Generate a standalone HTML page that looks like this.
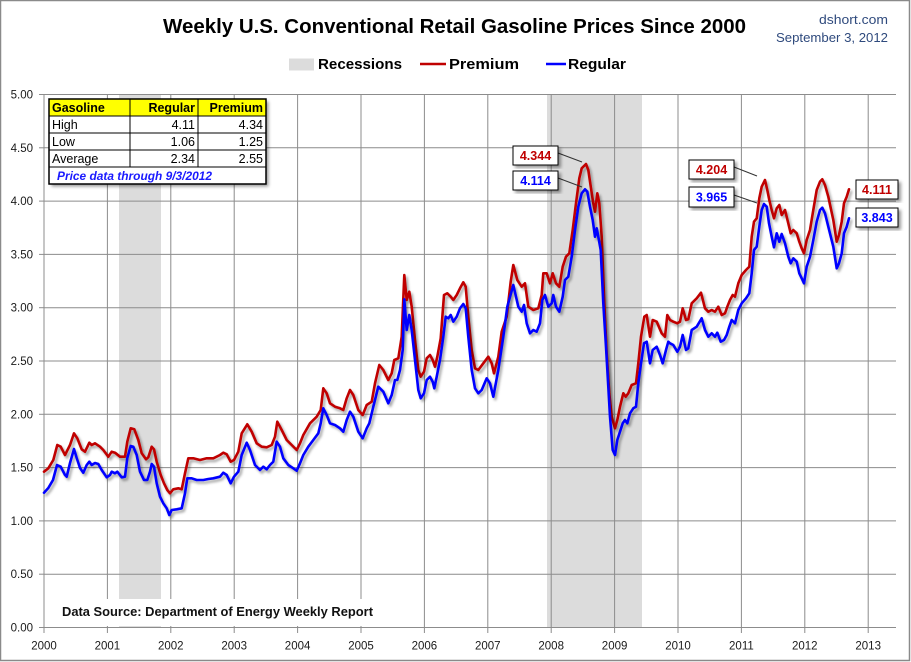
<!DOCTYPE html>
<html><head><meta charset="utf-8">
<style>
html,body{margin:0;padding:0;background:#fff;}
svg{display:block;}
text{font-family:"Liberation Sans",Arial,sans-serif;}
</style></head>
<body>
<svg width="911" height="662" viewBox="0 0 911 662" xmlns="http://www.w3.org/2000/svg">
<defs>
<filter id="sh" x="-5%" y="-5%" width="110%" height="110%">
<feDropShadow dx="2" dy="2.5" stdDeviation="1.4" flood-color="#000" flood-opacity="0.35"/>
</filter>
<filter id="bs" x="-10%" y="-10%" width="125%" height="130%">
<feDropShadow dx="2.5" dy="2.5" stdDeviation="1.5" flood-color="#000" flood-opacity="0.4"/>
</filter>
</defs>
<rect x="0.5" y="0.5" width="909" height="660" fill="#fff" stroke="#8a8a8a" stroke-width="1.5"/>

<!-- title -->
<text x="163" y="33" font-size="20" font-weight="bold" fill="#000" textLength="583" lengthAdjust="spacingAndGlyphs">Weekly U.S. Conventional Retail Gasoline Prices Since 2000</text>
<text x="888" y="24" font-size="13" fill="#2F4A7D" text-anchor="end" textLength="69" lengthAdjust="spacingAndGlyphs">dshort.com</text>
<text x="888" y="42" font-size="13" fill="#2F4A7D" text-anchor="end" textLength="112" lengthAdjust="spacingAndGlyphs">September 3, 2012</text>

<!-- legend -->
<rect x="289" y="58.5" width="25" height="12" fill="#dcdcdc"/>
<text x="318" y="69" font-size="15" font-weight="bold" textLength="84" lengthAdjust="spacingAndGlyphs">Recessions</text>
<line x1="420" y1="64" x2="446" y2="64" stroke="#C00000" stroke-width="2.5"/>
<text x="449" y="69" font-size="15" font-weight="bold" textLength="70" lengthAdjust="spacingAndGlyphs">Premium</text>
<line x1="546" y1="64" x2="566" y2="64" stroke="#0000FF" stroke-width="2.5"/>
<text x="568" y="69" font-size="15" font-weight="bold" textLength="58" lengthAdjust="spacingAndGlyphs">Regular</text>

<!-- recession bands -->
<rect x="119" y="94.5" width="42" height="533" fill="#dcdcdc"/>
<rect x="547" y="94.5" width="95" height="533" fill="#dcdcdc"/>

<!-- grid -->
<g stroke="#8c8c8c" stroke-width="1">
<line x1="44" y1="94.5" x2="896" y2="94.5"/>
<line x1="44" y1="147.8" x2="896" y2="147.8"/>
<line x1="44" y1="201.1" x2="896" y2="201.1"/>
<line x1="44" y1="254.4" x2="896" y2="254.4"/>
<line x1="44" y1="307.7" x2="896" y2="307.7"/>
<line x1="44" y1="361" x2="896" y2="361"/>
<line x1="44" y1="414.3" x2="896" y2="414.3"/>
<line x1="44" y1="467.6" x2="896" y2="467.6"/>
<line x1="44" y1="520.9" x2="896" y2="520.9"/>
<line x1="44" y1="574.2" x2="896" y2="574.2"/>
<line x1="44" y1="627.5" x2="896" y2="627.5"/>
<line x1="44" y1="94.5" x2="44" y2="633"/>
<line x1="107.4" y1="94.5" x2="107.4" y2="633"/>
<line x1="170.8" y1="94.5" x2="170.8" y2="633"/>
<line x1="234.2" y1="94.5" x2="234.2" y2="633"/>
<line x1="297.6" y1="94.5" x2="297.6" y2="633"/>
<line x1="361" y1="94.5" x2="361" y2="633"/>
<line x1="424.4" y1="94.5" x2="424.4" y2="633"/>
<line x1="487.8" y1="94.5" x2="487.8" y2="633"/>
<line x1="551.2" y1="94.5" x2="551.2" y2="633"/>
<line x1="614.6" y1="94.5" x2="614.6" y2="633"/>
<line x1="678" y1="94.5" x2="678" y2="633"/>
<line x1="741.4" y1="94.5" x2="741.4" y2="633"/>
<line x1="804.8" y1="94.5" x2="804.8" y2="633"/>
<line x1="868.2" y1="94.5" x2="868.2" y2="633"/>
<line x1="39" y1="94.5" x2="44" y2="94.5"/>
<line x1="39" y1="147.8" x2="44" y2="147.8"/>
<line x1="39" y1="201.1" x2="44" y2="201.1"/>
<line x1="39" y1="254.4" x2="44" y2="254.4"/>
<line x1="39" y1="307.7" x2="44" y2="307.7"/>
<line x1="39" y1="361" x2="44" y2="361"/>
<line x1="39" y1="414.3" x2="44" y2="414.3"/>
<line x1="39" y1="467.6" x2="44" y2="467.6"/>
<line x1="39" y1="520.9" x2="44" y2="520.9"/>
<line x1="39" y1="574.2" x2="44" y2="574.2"/>
<line x1="39" y1="627.5" x2="44" y2="627.5"/>
</g>

<!-- y labels -->
<g font-size="11.5" fill="#1a1a1a" text-anchor="end">
<text x="33" y="98.5">5.00</text>
<text x="33" y="151.8">4.50</text>
<text x="33" y="205.1">4.00</text>
<text x="33" y="258.4">3.50</text>
<text x="33" y="311.7">3.00</text>
<text x="33" y="365">2.50</text>
<text x="33" y="418.3">2.00</text>
<text x="33" y="471.6">1.50</text>
<text x="33" y="524.9">1.00</text>
<text x="33" y="578.2">0.50</text>
<text x="33" y="631.5">0.00</text>
</g>
<!-- x labels -->
<g font-size="11.5" fill="#1a1a1a" text-anchor="middle">
<text x="44" y="649.5">2000</text>
<text x="107.4" y="649.5">2001</text>
<text x="170.8" y="649.5">2002</text>
<text x="234.2" y="649.5">2003</text>
<text x="297.6" y="649.5">2004</text>
<text x="361" y="649.5">2005</text>
<text x="424.4" y="649.5">2006</text>
<text x="487.8" y="649.5">2007</text>
<text x="551.2" y="649.5">2008</text>
<text x="614.6" y="649.5">2009</text>
<text x="678" y="649.5">2010</text>
<text x="741.4" y="649.5">2011</text>
<text x="804.8" y="649.5">2012</text>
<text x="868.2" y="649.5">2013</text>
</g>

<!-- data source -->
<rect x="55" y="599" width="325" height="27" fill="#fff"/>
<text x="62" y="616" font-size="13" font-weight="bold" fill="#111" textLength="311" lengthAdjust="spacingAndGlyphs">Data Source: Department of Energy Weekly Report</text>

<!-- series -->
<polyline filter="url(#sh)" fill="none" stroke="#C00000" stroke-width="2.6" stroke-linejoin="round" stroke-linecap="round" points="44,471.7 48.3,468.3 53.3,460 57.3,445 60.7,446.7 65,455 70,445 74,433.3 77.3,438.3 81.7,449.3 85,451.7 89.3,442.7 91.7,445 95,443.3 100,446.7 103.3,450 108.3,456.7 111.7,451.7 115,452.7 120,456.7 125,456.7 127.3,441.7 130.7,428.3 134.3,429.3 138.3,440 141.7,453.3 146,459.3 148.3,457.3 151.7,446.7 154,449.3 156.7,461.7 160.7,475 164,483.3 167.3,490 170,493.3 173.3,489.3 178.3,488.3 181.7,489.3 185,473.3 188.3,458.3 193.3,458.3 200,460 206.7,458.3 213.3,458.3 220,455 223.3,452.7 226.7,454.3 230.7,461.7 234,460 238.3,451.7 241.7,433.3 247.3,424.3 251.7,431.7 256.7,443.3 261.7,446.7 266.7,447.3 271.7,445 275,436.7 277.3,421.7 281.7,430 286.7,440 291.7,445 296.7,450 300,443.3 303.3,435 310,423.3 316.7,416.7 320.7,410 323.3,388.3 326.7,393.3 330,403.3 335,406.7 340,408.3 343.3,410 346.7,398.3 350,390 353.3,395 358.3,410 362.7,415 366.7,405 371.7,401.7 375,383.3 379.3,365 383.3,370 388.3,380 391.7,373.3 394.3,360 398.3,358.3 401.7,336.7 404.3,275 406.7,300 409.3,291.7 411.7,306.7 415,340 418.3,370 420.7,376.7 424,371.7 426.7,358.3 430,355 432.7,360 435,366.7 437.3,356.7 440.7,338.3 444,295 447.3,293.3 450.7,296.7 453.3,300 456.7,295 460,288.3 463.3,282.3 465.7,286.7 468.3,316.7 471.7,350 475,368.3 478.3,370 483.3,363.3 488.3,356.7 491.7,363.3 494,373.3 498.3,356.7 501.7,331.7 506.7,316.7 510.7,281.7 513.3,265 517.3,280 521.7,286.7 525,283.3 528.3,306.7 533.3,310 538.3,308.3 541.7,295 543.3,273.3 546.7,273.3 550,283.3 552.7,273.3 556,283.3 559.3,286.7 562.7,266.7 566,256.7 569.3,253.3 572.7,230 576,203.3 579.3,178.3 581.7,168.3 586,164 588.3,170 591,188.3 593.3,203.3 595,211.7 597.3,193.3 599.3,203.3 601.7,236.7 604.3,303.3 606.7,353.3 609.3,393.3 611.7,416.7 615,428.3 617.3,420 620,406.7 623.3,393.3 625.7,396.7 628.3,393.3 631.7,385 636,383.3 638.3,363.3 641,336.7 644.3,316.7 646.7,315 650,336.7 652.7,320 656.7,321.7 661.7,333.3 665,336.7 667.3,315 670,320 673.3,321.7 677.3,323.3 680,321.7 682.7,308.3 686,320 688.3,319.3 691.7,303.3 696.7,298.3 701,292.7 705,308.3 708.3,311.7 711.7,310 715,311.7 718.3,306.7 721.7,315 725,313.3 727.3,306.7 730,300 732.7,295 735,296.7 738.3,283.3 741.7,275 746,270 749.3,266.7 751.7,236.7 754,221.7 756.7,218.3 759.3,198.3 761.7,186.7 765,180 767.3,190 769.3,200 771.7,210 774,218.3 776.7,208.3 779.3,205 781.7,215 785,210 788.3,223.3 790.7,233.3 793.3,230 796.7,233.3 799.3,241.7 801.7,248.3 804,253.3 806.7,240 810,230 813.3,210 816.7,190 820,181.7 822.3,179.3 825,185 828.3,196.7 833.3,220 836.7,241.7 839,235 841.7,221.7 844,203.3 846.7,196.7 849,189.3"/>
<polyline filter="url(#sh)" fill="none" stroke="#0000FF" stroke-width="2.6" stroke-linejoin="round" stroke-linecap="round" points="44,492.7 48.3,488 53,480 57,465 60.7,466.7 65,475 66.7,476.7 70,463 74,449 76.7,458 80,468 83.3,472.7 86.7,465 89.3,461.7 91.7,465 95,463 98.3,464 101.7,470 106.7,477.3 110,475 111.7,471.7 115,473.3 117.3,471.7 121.7,477.3 125,476.7 127.3,458 130.7,446 133.3,446.7 136.7,455 140,471.7 144,480 147.3,480 150,471.7 151.7,464 154,466.7 156.7,483.3 160,496.7 163.3,503.3 166.7,508.3 169.3,515 171.7,510 176.7,509.3 181.7,508.3 185,493.3 187.3,478.3 191.7,478.3 196.7,480 203.3,480 208.3,479 213.3,478.3 220,476.7 223.3,472.7 226.7,475 230.7,483.3 234,476.7 238.3,471.7 241.7,455 246.7,442.7 250,450 255,465 260,470 263.3,466.7 266.7,469.3 270,465 273.3,461.7 276.7,441.7 280,446.7 283.3,458.3 288.3,465 293.3,468.3 296.7,470.7 300,463.3 303.3,455 308.3,446.7 313.3,440 318.3,433.3 320.7,423.3 323.3,408.3 326.7,415 330,423.3 335,425 340,428.3 343.3,431.7 346.7,420 350,411.7 353.3,416.7 358.3,431.7 362.7,438.3 366.7,428.3 369.3,423.3 373.3,406.7 378.3,386.7 383.3,391.7 388.3,403.3 391.7,395 395,380 397.3,380 400,370 402.7,350 404.3,299.3 406.7,330 409.3,315 411.7,330 415,360 418.3,390 420.7,398.3 424,393.3 426.7,380 430,376.7 432.7,381.7 434.3,388.3 436.7,376.7 440,360 443.3,336.7 445.7,316.7 448.3,318.3 450.7,315 453.3,321.7 456.7,316.7 460,308.3 463.3,304 465.7,308.3 468.3,336.7 471.7,370 475,388.3 478.3,393.3 481.7,390 486.7,378.3 490,383.3 493.3,396.7 498.3,370 503.3,336.7 507.3,306.7 513.3,285 518.3,306.7 521.7,311.7 524,305 526.7,323.3 530,333.3 533.3,330 536.7,331.7 540,323.3 542.3,300 545,295 548.3,306.7 551.7,303.3 553.3,295 556,306.7 559.3,311.7 562.7,296.7 565,280 568.3,276.7 571.7,256.7 575,230 578.3,206.7 581.7,193.3 585,189.3 587.3,191.7 590,206.7 592.7,220 595,236.7 596.7,228.3 598.3,236.7 600.7,250 603.3,303.3 606,346.7 608.3,386.7 610,416.7 612.7,450 615,455 617.3,440 620,431.7 622.7,423.3 625,420 627.3,423.3 630,413.3 633.3,408.3 636,406.7 638.3,383.3 641,363.3 644,343.3 646.7,341.7 650,363.3 652.7,350 656.7,346.7 660,355 662.7,363.3 666,350 668.3,341.7 670,343.3 673.3,345 677.3,351.7 680,346.7 682.7,335 686,350 688.3,348.3 691.7,330 696.7,326.7 701.7,318.3 705,330 708.3,336.7 711.7,333.3 715,336.7 717.3,332.7 720.7,341.7 724,340 726.7,335 729.3,326.7 731.7,320 735,323.3 738.3,310 741.7,303.3 746,298.3 749.3,293.3 751.7,273.3 754,250 756.7,246.7 759.3,226.7 761.7,210 764,204 766.7,206.7 769,223.3 771.7,236.7 774,247.3 776.7,233.3 779.3,241.7 781.7,234 785,243.3 788.3,256.7 790.7,263.3 793.3,258.3 796.7,261.7 799.3,273.3 801.7,278.3 804,283.3 806.7,266.7 810,256.7 813.3,240 816.7,221.7 820,210 822.3,207.7 825,213.3 828.3,226.7 833.3,246.7 836.7,268.3 839,263.3 841.7,253.3 844,233.3 846.7,226.7 849,218.3"/>

<!-- annotation connectors -->
<g stroke="#333" stroke-width="1">
<line x1="558" y1="153" x2="582" y2="162"/>
<line x1="558" y1="178" x2="582" y2="187"/>
<line x1="734" y1="167" x2="757" y2="176"/>
<line x1="734" y1="195" x2="757" y2="203"/>
</g>

<!-- annotation boxes -->
<g font-size="12.5" font-weight="bold" text-anchor="middle">
<rect x="513" y="146" width="45" height="19" fill="#fff" stroke="#000" stroke-width="1" filter="url(#bs)"/>
<text x="535.5" y="160" fill="#C00000">4.344</text>
<rect x="513" y="171" width="45" height="19" fill="#fff" stroke="#000" stroke-width="1" filter="url(#bs)"/>
<text x="535.5" y="185" fill="#0000FF">4.114</text>
<rect x="689" y="160" width="45" height="19" fill="#fff" stroke="#000" stroke-width="1" filter="url(#bs)"/>
<text x="711.5" y="174" fill="#C00000">4.204</text>
<rect x="689" y="187" width="45" height="20" fill="#fff" stroke="#000" stroke-width="1" filter="url(#bs)"/>
<text x="711.5" y="201.5" fill="#0000FF">3.965</text>
<rect x="856" y="180" width="42" height="19" fill="#fff" stroke="#000" stroke-width="1" filter="url(#bs)"/>
<text x="877" y="194" fill="#C00000">4.111</text>
<rect x="856" y="208" width="42" height="19" fill="#fff" stroke="#000" stroke-width="1" filter="url(#bs)"/>
<text x="877" y="222" fill="#0000FF">3.843</text>
</g>

<!-- table -->
<rect x="49" y="99" width="217" height="85" fill="#fff" filter="url(#bs)"/>
<rect x="49" y="99" width="217" height="17" fill="#FFFF00"/>
<g stroke="#000" stroke-width="1" fill="none">
<rect x="49" y="99" width="217" height="85" stroke-width="1.5"/>
<line x1="49" y1="116" x2="266" y2="116"/>
<line x1="49" y1="133" x2="266" y2="133"/>
<line x1="49" y1="150" x2="266" y2="150"/>
<line x1="49" y1="167" x2="266" y2="167"/>
<line x1="130" y1="99" x2="130" y2="167"/>
<line x1="198" y1="99" x2="198" y2="167"/>
</g>
<g font-size="12.5" fill="#000">
<text x="52" y="112" font-weight="bold">Gasoline</text>
<text x="195" y="112" font-weight="bold" text-anchor="end">Regular</text>
<text x="263" y="112" font-weight="bold" text-anchor="end">Premium</text>
<text x="52" y="129">High</text>
<text x="195" y="129" text-anchor="end">4.11</text>
<text x="263" y="129" text-anchor="end">4.34</text>
<text x="52" y="146">Low</text>
<text x="195" y="146" text-anchor="end">1.06</text>
<text x="263" y="146" text-anchor="end">1.25</text>
<text x="52" y="163">Average</text>
<text x="195" y="163" text-anchor="end">2.34</text>
<text x="263" y="163" text-anchor="end">2.55</text>
</g>
<text x="57" y="180" font-size="11.5" font-weight="bold" font-style="italic" fill="#1a1aff" textLength="155" lengthAdjust="spacingAndGlyphs">Price data through 9/3/2012</text>
</svg>
</body></html>
